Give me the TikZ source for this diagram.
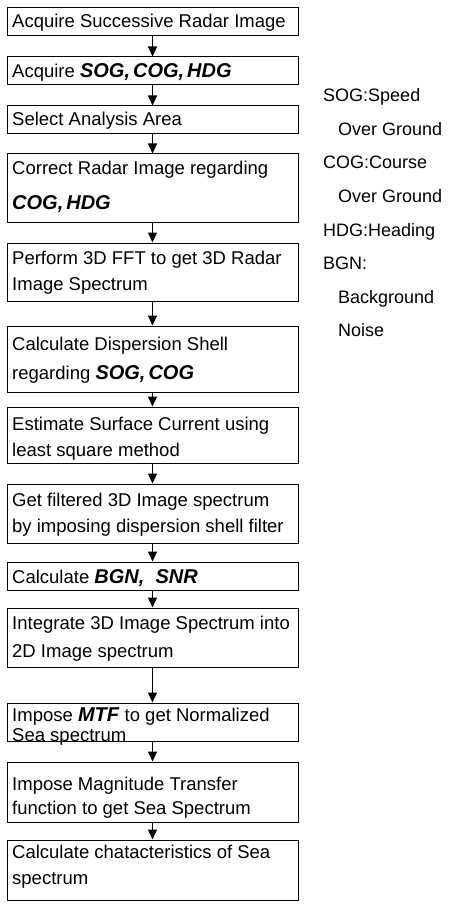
\documentclass[tikz,border=0pt]{standalone}
\usepackage{fontspec}
\setmainfont{Liberation Sans}
\usetikzlibrary{arrows.meta}
\newcommand\kw[1]{{\fontsize{20}{27}\selectfont\textbf{\textit{#1}}}}
\newcommand\kc{,\kern3pt}
\begin{document}
\begin{tikzpicture}[x=1pt,y=-1pt,
  box/.style={draw, line width=1pt, minimum width=291pt, inner sep=0pt},
  txt/.style={anchor=base west, inner sep=0pt, font=\fontsize{18.5}{27}\selectfont},
  flow/.style={-{Triangle[length=10pt,width=9pt]}, line width=1.2pt},
  leg/.style={anchor=base west, inner sep=0pt, font=\fontsize{18}{27}\selectfont}]
\useasboundingbox (0,0) rectangle (453,904);
% boxes
\node[box, minimum height=28pt] (b1) at (152.5,22) {};
\node[box, minimum height=28pt] (b2) at (152.5,71) {};
\node[box, minimum height=28pt] (b3) at (152.5,120) {};
\node[box, minimum height=68pt] (b4) at (152.5,188) {};
\node[box, minimum height=58pt] (b5) at (152.5,272) {};
\node[box, minimum height=66pt] (b6) at (152.5,359) {};
\node[box, minimum height=56pt] (b7) at (152.5,435) {};
\node[box, minimum height=59pt] (b8) at (152.5,513.5) {};
\node[box, minimum height=28pt] (b9) at (152.5,576) {};
\node[box, minimum height=59pt] (b10) at (152.5,637.5) {};
\node[box, minimum height=38pt] (b11) at (152.5,722) {};
\node[box, minimum height=60pt] (b12) at (152.5,792) {};
\node[box, minimum height=60pt] (b13) at (152.5,870) {};
% texts
\node[txt] (t1) at (12,28) {Acquire Successive Radar Image};
\node[txt] (t2) at (12,78) {Acquire \kw{SOG\kc COG\kc HDG}};
\node[txt] (t3) at (12,126) {Select Analysis Area};
\node[txt] (t4a) at (12,175) {Correct Radar Image regarding};
\node[txt] (t4b) at (12,209) {\kw{COG\kc HDG}};
\node[txt] (t5a) at (12,264) {Perform 3D FFT to get 3D Radar};
\node[txt] (t5b) at (12,290) {Image Spectrum};
\node[txt] (t6a) at (12,350) {Calculate Dispersion Shell};
\node[txt] (t6b) at (12,379) {regarding \kw{SOG\kc COG}};
\node[txt] (t7a) at (12,430) {Estimate Surface Current using};
\node[txt] (t7b) at (12,456) {least square method};
\node[txt] (t8a) at (12,506) {Get filtered 3D Image spectrum};
\node[txt] (t8b) at (12,532) {by imposing dispersion shell filter};
\node[txt] (t9) at (12,583) {Calculate \kw{BGN,\ \ SNR}};
\node[txt] (t10a) at (12,629) {Integrate 3D Image Spectrum into};
\node[txt] (t10b) at (12,657) {2D Image spectrum};
\node[txt] (t11a) at (12,721) {Impose \kw{MTF} to get Normalized};
\node[txt] (t11b) at (12,741) {Sea spectrum};
\node[txt] (t12a) at (12,790) {Impose Magnitude Transfer};
\node[txt] (t12b) at (12,814) {function to get Sea Spectrum};
\node[txt] (t13a) at (12,858) {Calculate chatacteristics of Sea};
\node[txt] (t13b) at (12,884) {spectrum};
% arrows
\draw[flow] (b1) -- (b2);
\draw[flow] (b2) -- (b3);
\draw[flow] (b3) -- (b4);
\draw[flow] (b4) -- (b5);
\draw[flow] (b5) -- (b6);
\draw[flow] (b6) -- (b7);
\draw[flow] (b7) -- (b8);
\draw[flow] (b8) -- (b9);
\draw[flow] (b9) -- (b10);
\draw[flow] (b10) -- (b11);
\draw[flow] (b11) -- (b12);
\draw[flow] (b12) -- (b13);
% legend
\node[leg] (l1) at (323,102) {SOG:Speed};
\node[leg] (l2) at (338,135.5) {Over Ground};
\node[leg] (l3) at (323,169) {COG:Course};
\node[leg] (l4) at (338,202.5) {Over Ground};
\node[leg] (l5) at (323,236) {HDG:Heading};
\node[leg] (l6) at (323,269.5) {BGN:};
\node[leg] (l7) at (338,303) {Background};
\node[leg] (l8) at (338,336.5) {Noise};
\end{tikzpicture}
\end{document}
